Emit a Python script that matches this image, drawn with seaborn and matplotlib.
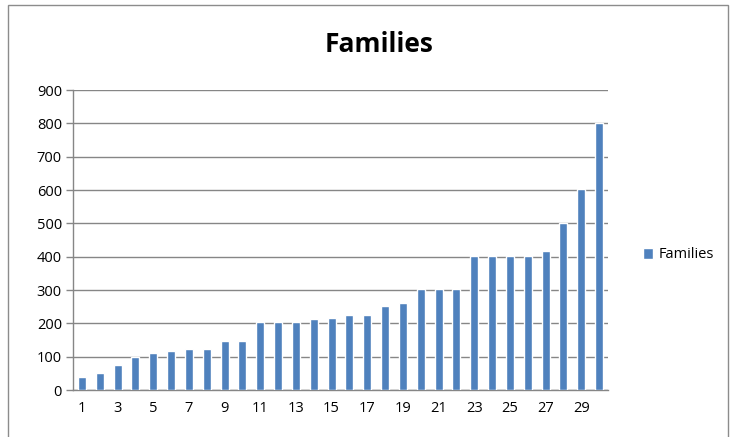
import matplotlib
matplotlib.use('Agg')
import matplotlib.pyplot as plt
import seaborn as sns
from matplotlib.patches import Rectangle

# data
days = [str(i) for i in range(1, 31)]
families = [40, 50, 75, 100, 112, 117, 122, 122, 148, 148,
            203, 203, 203, 213, 217, 225, 225, 253, 262, 303,
            303, 303, 403, 403, 403, 403, 416, 502, 602, 802]
ytick_vals = list(range(0, 1000, 100))
xtick_labels = days[::2]

bar_color = '#4F81BD'
grid_color = '#868686'

sns.set_style('white')
plt.rcParams['font.family'] = ['Open Sans', 'DejaVu Sans']
plt.rcParams['text.color'] = 'black'
plt.rcParams['xtick.labelcolor'] = 'black'
plt.rcParams['ytick.labelcolor'] = 'black'

fig = plt.figure(figsize=(7.35, 4.37), dpi=100)
ax = fig.add_axes([73 / 735, 1 - 390 / 437, 535 / 735, 300 / 437])

sns.barplot(x=days, y=families, color=bar_color, width=0.44,
            saturation=1, ax=ax, label='Families', zorder=3)

ax.set_xlim(-0.5, 29.5)
ax.set_ylim(0, 900)
ax.set_yticks(ytick_vals)
ax.set_yticklabels([str(v) for v in ytick_vals], fontsize=10.5)
ax.set_xticks(range(0, 30, 2))
ax.set_xticklabels(xtick_labels, fontsize=10.5)
ax.tick_params(axis='x', length=0, pad=8)
ax.set_xticks([i - 0.5 for i in range(31)], minor=True)
ax.tick_params(axis='x', which='minor', length=5, color=grid_color, width=1)
ax.tick_params(axis='y', length=5, color=grid_color, width=1, left=True, pad=3)

ax.grid(axis='y', color=grid_color, linewidth=1, zorder=0)
ax.set_axisbelow(True)
for side in ['top', 'right']:
    ax.spines[side].set_visible(False)
for side in ['left', 'bottom']:
    ax.spines[side].set_color(grid_color)
    ax.spines[side].set_linewidth(1)

fig.text(379 / 735, 1 - 45 / 437, 'Families', ha='center', va='center',
         fontsize=19, fontweight='bold', color='black')

ax.legend(loc='center left', bbox_to_anchor=(1.04, 0.45), frameon=False,
          fontsize=10.5, handlelength=0.7, handleheight=0.7, handletextpad=0.4)

# chart border like the spreadsheet frame
fig.patches.append(Rectangle((8 / 735, -0.01), 720 / 735, 1 - 5 / 437 + 0.01,
                             transform=fig.transFigure, fill=False,
                             edgecolor='#8c8c8c', linewidth=1))

fig.savefig('out.png', dpi=100)
